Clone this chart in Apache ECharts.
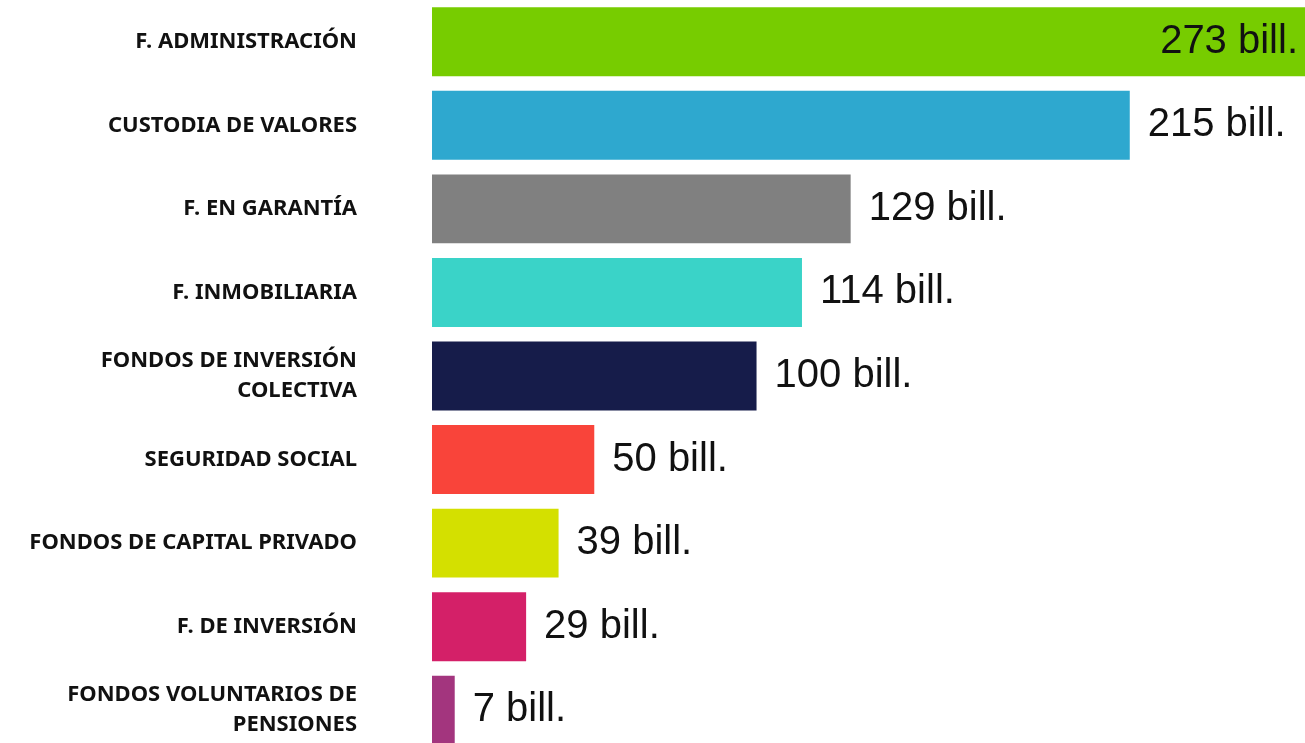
<!DOCTYPE html>
<html>
<head>
<meta charset="utf-8">
<script src="https://cdn.jsdelivr.net/npm/echarts@6/dist/echarts.min.js"></script>
<style>
  html, body { margin: 0; padding: 0; background: #fff; overflow: hidden; }
  #chart { width: 1318px; height: 752px; }
</style>
</head>
<body>
<div id="chart"></div>
<script>
const categories = [
  'F. ADMINISTRACIÓN',
  'CUSTODIA DE VALORES',
  'F. EN GARANTÍA',
  'F. INMOBILIARIA',
  'FONDOS DE INVERSIÓN\nCOLECTIVA',
  'SEGURIDAD SOCIAL',
  'FONDOS DE CAPITAL PRIVADO',
  'F. DE INVERSIÓN',
  'FONDOS VOLUNTARIOS DE\nPENSIONES'
];
const values = [273, 215, 129, 114, 100, 50, 39, 29, 7];
const colors = ['#77cc00', '#2ea8cf', '#808080', '#3ad3c8', '#161c4a', '#f9443a', '#d4e000', '#d42068', '#a3357e'];

let chartDom = document.getElementById('chart');
let chart = echarts.init(chartDom, null, {renderer: 'canvas'});
let option;

option = {
  animation: false,
  grid: {
    left: 432,
    right: 0,
    top: 0,
    bottom: 0,
    containLabel: false
  },
  xAxis: {
    type: 'value',
    min: 0,
    max: 273,
    show: false
  },
  yAxis: {
    type: 'category',
    data: categories,
    inverse: true,
    axisLine: { show: false },
    axisTick: { show: false },
    axisLabel: {
      margin: 75,
      fontFamily: 'Noto Sans',
      fontWeight: 'bold',
      fontSize: 22,
      lineHeight: 30,
      color: '#111',
      align: 'right'
    }
  },
  series: [
    {
      type: 'bar',
      barCategoryGap: '17.5%',
      data: values.map(function (v, i) {
        let item = {
          value: v,
          itemStyle: { color: colors[i] }
        };
        if (i === 0) {
          item.label = { position: 'insideRight', distance: 20 };
        }
        return item;
      }),
      label: {
        show: true,
        position: 'right',
        distance: 18,
        fontFamily: 'Liberation Sans',
        fontSize: 40,
        color: '#111',
        formatter: function (p) { return p.value + ' bill.'; }
      }
    }
  ]
};

chart.setOption(option);
window.addEventListener('resize', function () {
  chart.resize();
});
</script>
</body>
</html>
